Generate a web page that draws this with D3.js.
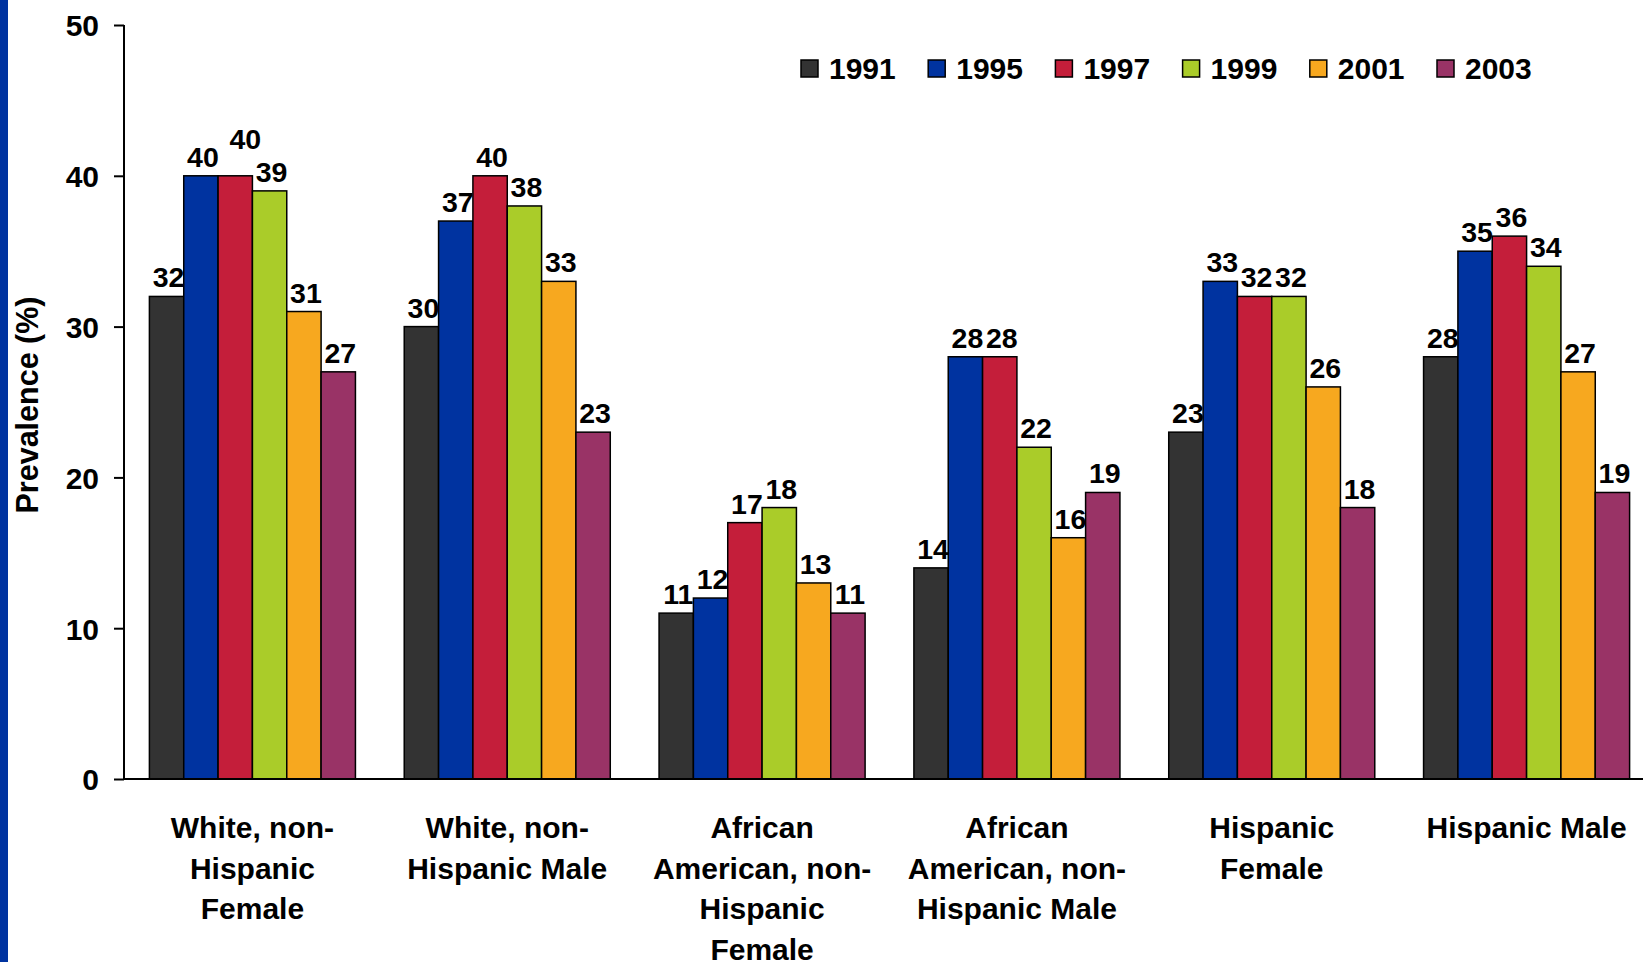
<!DOCTYPE html>
<html>
<head>
<meta charset="utf-8">
<script src="https://cdn.jsdelivr.net/npm/d3@7"></script>
<style>
  html, body { margin: 0; padding: 0; background: #fff; }
  svg { display: block; font-family: "Liberation Sans", Arial, sans-serif; font-weight: bold; }
</style>
</head>
<body>
<svg id="chart" width="1643" height="962"></svg>
<script>
const categories = [
  ["White, non-", "Hispanic", "Female"],
  ["White, non-", "Hispanic Male"],
  ["African", "American, non-", "Hispanic", "Female"],
  ["African", "American, non-", "Hispanic Male"],
  ["Hispanic", "Female"],
  ["Hispanic Male"]
];
const years = ["1991", "1995", "1997", "1999", "2001", "2003"];
const v1991 = [32, 30, 11, 14, 23, 28];
const v1995 = [40, 37, 12, 28, 33, 35];
const v1997 = [40, 40, 17, 28, 32, 36];
const v1999 = [39, 38, 18, 22, 32, 34];
const v2001 = [31, 33, 13, 16, 26, 27];
const v2003 = [27, 23, 11, 19, 18, 19];
const yTicks = [0, 10, 20, 30, 40, 50];
const yTitle = "Prevalence (%)";
const colors = ["#333333", "#0033A0", "#C41E3A", "#AACC29", "#F7A81F", "#993366"];

const series = [v1991, v1995, v1997, v1999, v2001, v2003];
const catKeys = categories.map((c, i) => i);

const svg = d3.select("#chart");

// left blue stripe
svg.append("rect").attr("x", 0).attr("y", 0).attr("width", 8).attr("height", 962).attr("fill", "#0033A0");

const axisX = 124, yTop = 25, yBottom = 779;
const x0 = d3.scaleBand().domain(catKeys).range([axisX + 1, 1654]).paddingInner(0.1915).paddingOuter(0.09575);
const x1 = d3.scaleBand().domain(years).range([0, x0.bandwidth()]).padding(0);
const y = d3.scaleLinear().domain([0, 50]).range([yBottom, yTop]);

// bars
const g = svg.append("g");
const groups = g.selectAll("g.grp").data(catKeys).join("g")
  .attr("class", "grp")
  .attr("transform", d => `translate(${x0(d)},0)`);

groups.selectAll("rect").data(ci => years.map((yr, si) => ({ yr, si, v: series[si][ci] })))
  .join("rect")
  .attr("x", d => x1(d.yr))
  .attr("y", d => y(d.v))
  .attr("width", x1.bandwidth())
  .attr("height", d => y(0) - y(d.v))
  .attr("fill", d => colors[d.si])
  .attr("stroke", "#000")
  .attr("stroke-width", 1.5);

// value labels; a label whose neighbour on the left sits at the same height is lifted above it
const labelH = 22;
groups.each(function (ci) {
  const items = years.map((yr, si) => ({ yr, si, v: series[si][ci] }));
  let prev = null;
  items.forEach(d => {
    let base = y(d.v) - 9;
    if (prev && prev.v === d.v && ci === 0) base = prev.base - labelH + 4;
    d.base = base;
    prev = d;
  });
  d3.select(this).selectAll("text.val").data(items).join("text")
    .attr("class", "val")
    .attr("x", d => x1(d.yr) + x1.bandwidth() / 2 + 2 + (d.base < y(d.v) - 12 ? 8 : 0))
    .attr("y", d => d.base)
    .attr("text-anchor", "middle")
    .attr("font-size", 28.5)
    .attr("fill", "#000")
    .text(d => d.v);
});

// y axis
const yAxis = d3.axisLeft(y).tickValues(yTicks).tickSize(10).tickPadding(15).tickFormat(d3.format("d"));
const ya = svg.append("g").attr("transform", `translate(${axisX},0)`).call(yAxis);
ya.select(".domain").attr("stroke", "#000").attr("stroke-width", 2).attr("d", `M0,${yTop}V${yBottom}`);
ya.selectAll(".tick line").attr("stroke", "#000").attr("stroke-width", 2);
ya.selectAll(".tick text").attr("font-size", 30).attr("font-family", "Liberation Sans, Arial, sans-serif")
  .attr("font-weight", "bold").attr("fill", "#000").attr("dy", "0.36em");

// x axis line
const xAxis = d3.axisBottom(x0).tickSize(0).tickFormat("");
const xa = svg.append("g").attr("transform", `translate(0,${yBottom})`).call(xAxis);
xa.select(".domain").attr("stroke", "#000").attr("stroke-width", 2).attr("d", `M${axisX},0H1643`);

// category labels
const lab = svg.append("g");
lab.selectAll("text").data(catKeys).join("text")
  .attr("x", d => x0(d) + x0.bandwidth() / 2)
  .attr("y", 838)
  .attr("text-anchor", "middle")
  .attr("font-size", 30)
  .attr("fill", "#000")
  .each(function (d) {
    const t = d3.select(this);
    categories[d].forEach((line, i) => {
      t.append("tspan").attr("x", x0(d) + x0.bandwidth() / 2).attr("dy", i === 0 ? 0 : 40.5).text(line);
    });
  });

// y title
svg.append("text")
  .attr("transform", "translate(38,405) rotate(-90)")
  .attr("text-anchor", "middle")
  .attr("font-size", 30.5)
  .attr("fill", "#000")
  .text(yTitle);

// legend
const legX = d3.scalePoint().domain(years).range([801, 1437]);
const leg = svg.append("g").selectAll("g").data(years).join("g")
  .attr("transform", d => `translate(${legX(d)},0)`);
leg.append("rect").attr("x", 0).attr("y", 60).attr("width", 17).attr("height", 17)
  .attr("fill", (d, i) => colors[i]).attr("stroke", "#000").attr("stroke-width", 1.5);
leg.append("text").attr("x", 28).attr("y", 79).attr("font-size", 30).attr("fill", "#000").text(d => d);
</script>
</body>
</html>
